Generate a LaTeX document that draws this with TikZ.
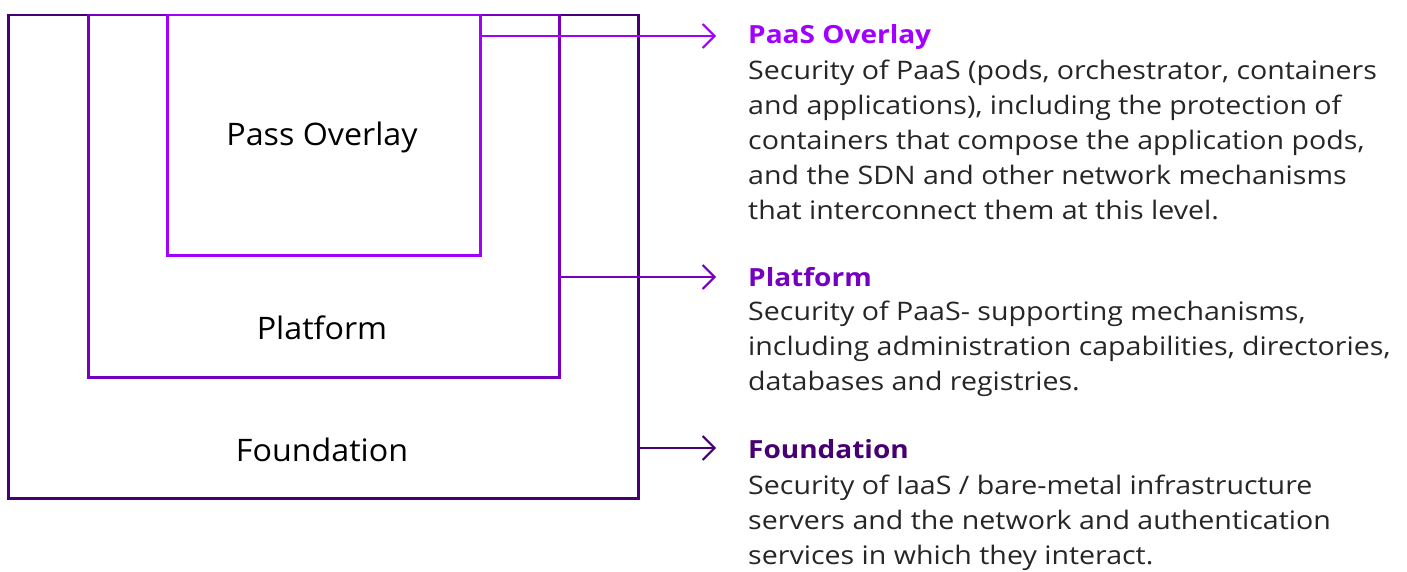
\documentclass[tikz,border=0pt]{standalone}
\usepackage{fontspec}
\setmainfont{Open Sans}[FakeStretch=1.12]
\newfontfamily\labelfont{Open Sans}[FakeStretch=1.04]
\usetikzlibrary{arrows.meta}
\definecolor{found}{HTML}{460073}
\definecolor{plat}{HTML}{7500C0}
\definecolor{paas}{HTML}{A100FF}
\tikzset{
  layer/.style={draw, line width=2.5pt, inner sep=0pt, anchor=north west},
  layerlabel/.style={font=\labelfont\fontsize{31}{34}\selectfont, text=black},
  pointer/.style={line width=2pt, -{Straight Barb[length=12pt,width=24pt,line width=2pt]}},
  heading/.style={anchor=base west, inner sep=0pt, font=\fontsize{25}{35}\selectfont\bfseries},
  body/.style={anchor=north west, inner sep=0pt, align=left, text=black!85, font=\fontsize{25.5}{35}\selectfont}
}
\begin{document}
\begin{tikzpicture}[x=1pt,y=-1pt]
\useasboundingbox (0,0) rectangle (1407,572);

% nested layers
\node[layer, draw=found, minimum width=630pt, minimum height=483pt] (foundbox) at (7,14) {};
\node[layer, draw=plat, minimum width=471pt, minimum height=362pt] (platbox) at (87,14) {};
\node[layer, draw=paas, minimum width=313pt, minimum height=240pt] (paasbox) at (166,14) {};

\node[layerlabel] (paaslbl) at (322,137) {Pass Overlay};
\node[layerlabel] (platlbl) at (322,328) {Platform};
\node[layerlabel] (foundlbl) at (322,450) {Foundation};

% pointer start and end points
\coordinate (paasfrom) at (479,36);
\coordinate (paasto) at (716,36);
\coordinate (platfrom) at (558,277);
\coordinate (platto) at (716,277);
\coordinate (foundfrom) at (637,448);
\coordinate (foundto) at (716,448);

\draw[pointer, draw=paas] (paasfrom) -- (paasto);
\draw[pointer, draw=plat] (platfrom) -- (platto);
\draw[pointer, draw=found] (foundfrom) -- (foundto);

% descriptions
\node[heading, text=paas] (paashead) at (748,44) {PaaS Overlay};
\node[body] (paasbody) at (748,60) {Security of PaaS (pods, orchestrator, containers\\and applications), including the protection of\\containers that compose the application pods,\\and the SDN and other network mechanisms\\that interconnect them at this level.};

\node[heading, text=plat] (plathead) at (748,286) {Platform};
\node[body] (platbody) at (748,301) {Security of PaaS- supporting mechanisms,\\including administration capabilities, directories,\\databases and registries.};

\node[heading, text=found] (foundhead) at (748,458) {Foundation};
\node[body] (foundbody) at (748,475) {Security of IaaS / bare-metal infrastructure\\servers and the network and authentication\\services in which they interact.};
\end{tikzpicture}
\end{document}
